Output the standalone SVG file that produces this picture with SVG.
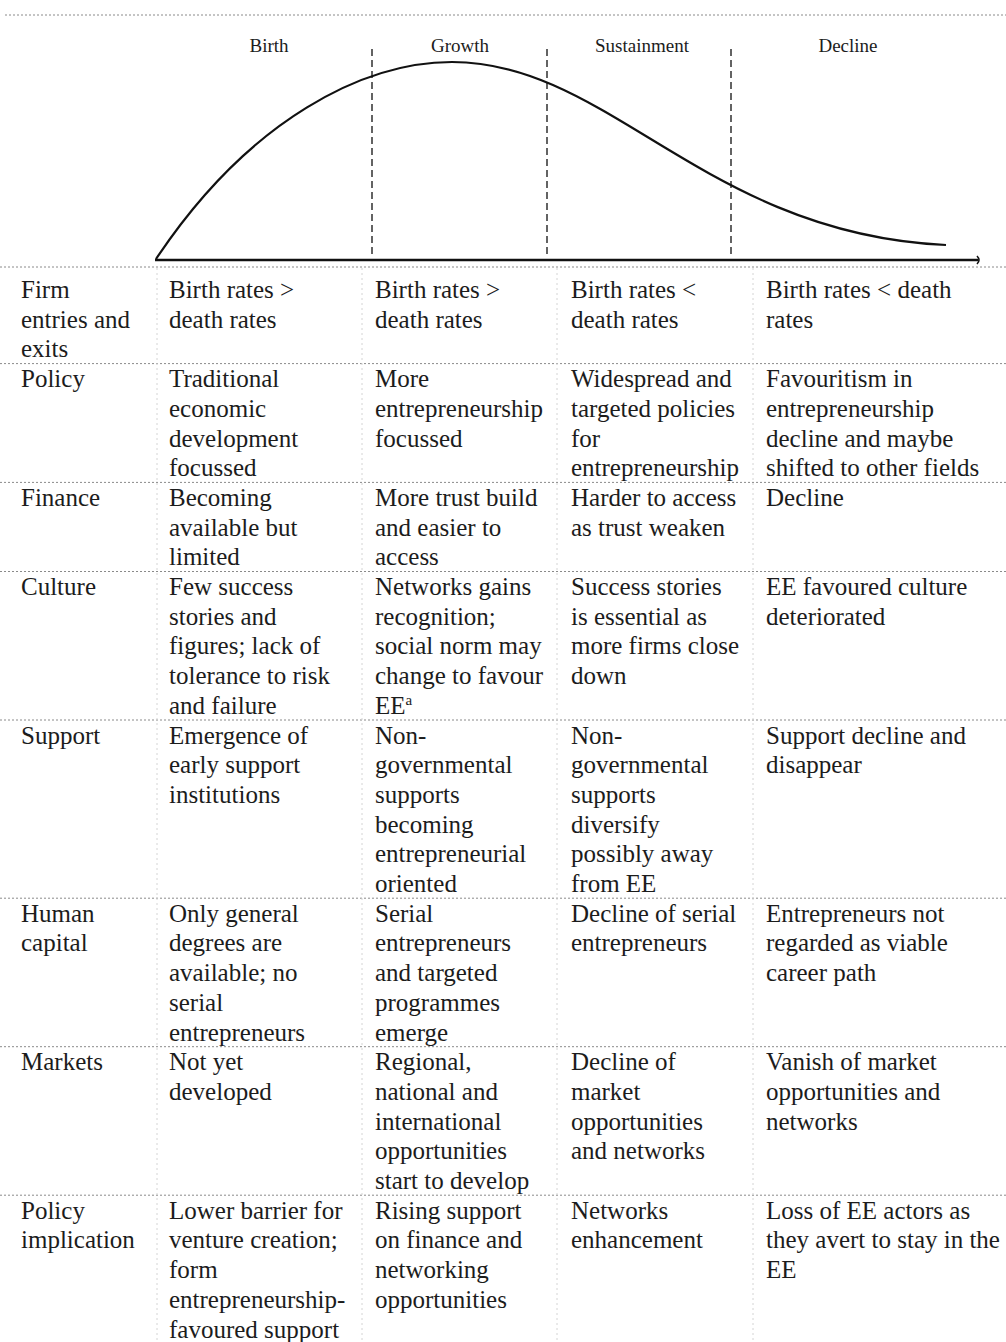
<svg xmlns="http://www.w3.org/2000/svg" width="1006" height="1342" viewBox="0 0 1006 1342">
<style>
text{font-family:"Liberation Serif","Times New Roman",serif;fill:#1c1c1c}
.cell{font-size:25px}
.phase{font-size:19px;text-anchor:middle}
.hsep{stroke:#8a8a8a;stroke-width:1;stroke-dasharray:2 2;fill:none}
.vsep{stroke:#d4d4d4;stroke-width:1;stroke-dasharray:2 3;fill:none}
.stage{stroke:#222;stroke-width:1.4;stroke-dasharray:7 4;fill:none}
</style>
<defs>
<marker id="arr" viewBox="0 0 10 10" refX="3" refY="5" markerWidth="10" markerHeight="10" markerUnits="userSpaceOnUse" orient="auto">
<path d="M2,1 Q6,5 2,9" fill="none" stroke="#111" stroke-width="1.6"/>
</marker>
</defs>
<rect width="1006" height="1342" fill="#fff"/>
<g id="chart">
<line x1="5" y1="15" x2="1006" y2="15" class="hsep" stroke="#aaa"/>
<text class="phase" x="269" y="52">Birth</text>
<text class="phase" x="460" y="52">Growth</text>
<text class="phase" x="642" y="52">Sustainment</text>
<text class="phase" x="848" y="52">Decline</text>
<line class="stage" x1="372" y1="49" x2="372" y2="258"/>
<line class="stage" x1="547" y1="49" x2="547" y2="258"/>
<line class="stage" x1="731" y1="49" x2="731" y2="258"/>
<path d="M156,259 C250,118 365,62 452,62 C610,62 705,234 946,245" fill="none" stroke="#111" stroke-width="2.2"/>
<line x1="155" y1="260" x2="978" y2="260" stroke="#111" stroke-width="2.6" marker-end="url(#arr)"/>
</g>
<g id="grid">
<line class="hsep" x1="0" y1="267" x2="1006" y2="267" stroke="#555"/>
<line class="hsep" x1="0" y1="363.6" x2="1006" y2="363.6"/>
<line class="hsep" x1="0" y1="482.4" x2="1006" y2="482.4"/>
<line class="hsep" x1="0" y1="571.5" x2="1006" y2="571.5"/>
<line class="hsep" x1="0" y1="720" x2="1006" y2="720"/>
<line class="hsep" x1="0" y1="898.2" x2="1006" y2="898.2"/>
<line class="hsep" x1="0" y1="1046.7" x2="1006" y2="1046.7"/>
<line class="hsep" x1="0" y1="1195.2" x2="1006" y2="1195.2"/>
<line class="vsep" x1="157" y1="268" x2="157" y2="1342"/>
<line class="vsep" x1="362" y1="268" x2="362" y2="1342"/>
<line class="vsep" x1="557" y1="268" x2="557" y2="1342"/>
<line class="vsep" x1="753" y1="268" x2="753" y2="1342"/>
</g>
<g id="row-firm" class="cell">
<text x="21" y="298"><tspan x="21">Firm</tspan><tspan x="21" dy="29.7">entries and</tspan><tspan x="21" dy="29.7">exits</tspan></text>
<text x="169" y="298"><tspan x="169">Birth rates &gt;</tspan><tspan x="169" dy="29.7">death rates</tspan></text>
<text x="375" y="298"><tspan x="375">Birth rates &gt;</tspan><tspan x="375" dy="29.7">death rates</tspan></text>
<text x="571" y="298"><tspan x="571">Birth rates &lt;</tspan><tspan x="571" dy="29.7">death rates</tspan></text>
<text x="766" y="298"><tspan x="766">Birth rates &lt; death</tspan><tspan x="766" dy="29.7">rates</tspan></text>
</g>
<g id="row-policy" class="cell">
<text x="21" y="387.1">Policy</text>
<text x="169" y="387.1"><tspan x="169">Traditional</tspan><tspan x="169" dy="29.7">economic</tspan><tspan x="169" dy="29.7">development</tspan><tspan x="169" dy="29.7">focussed</tspan></text>
<text x="375" y="387.1"><tspan x="375">More</tspan><tspan x="375" dy="29.7">entrepreneurship</tspan><tspan x="375" dy="29.7">focussed</tspan></text>
<text x="571" y="387.1"><tspan x="571">Widespread and</tspan><tspan x="571" dy="29.7">targeted policies</tspan><tspan x="571" dy="29.7">for</tspan><tspan x="571" dy="29.7">entrepreneurship</tspan></text>
<text x="766" y="387.1"><tspan x="766">Favouritism in</tspan><tspan x="766" dy="29.7">entrepreneurship</tspan><tspan x="766" dy="29.7">decline and maybe</tspan><tspan x="766" dy="29.7">shifted to other fields</tspan></text>
</g>
<g id="row-finance" class="cell">
<text x="21" y="505.9">Finance</text>
<text x="169" y="505.9"><tspan x="169">Becoming</tspan><tspan x="169" dy="29.7">available but</tspan><tspan x="169" dy="29.7">limited</tspan></text>
<text x="375" y="505.9"><tspan x="375">More trust build</tspan><tspan x="375" dy="29.7">and easier to</tspan><tspan x="375" dy="29.7">access</tspan></text>
<text x="571" y="505.9"><tspan x="571">Harder to access</tspan><tspan x="571" dy="29.7">as trust weaken</tspan></text>
<text x="766" y="505.9">Decline</text>
</g>
<g id="row-culture" class="cell">
<text x="21" y="595">Culture</text>
<text x="169" y="595"><tspan x="169">Few success</tspan><tspan x="169" dy="29.7">stories and</tspan><tspan x="169" dy="29.7">figures; lack of</tspan><tspan x="169" dy="29.7">tolerance to risk</tspan><tspan x="169" dy="29.7">and failure</tspan></text>
<text x="375" y="595"><tspan x="375">Networks gains</tspan><tspan x="375" dy="29.7">recognition;</tspan><tspan x="375" dy="29.7">social norm may</tspan><tspan x="375" dy="29.7">change to favour</tspan><tspan x="375" dy="29.7">EE</tspan><tspan dy="-9" font-size="15">a</tspan></text>
<text x="571" y="595"><tspan x="571">Success stories</tspan><tspan x="571" dy="29.7">is essential as</tspan><tspan x="571" dy="29.7">more firms close</tspan><tspan x="571" dy="29.7">down</tspan></text>
<text x="766" y="595"><tspan x="766">EE favoured culture</tspan><tspan x="766" dy="29.7">deteriorated</tspan></text>
</g>
<g id="row-support" class="cell">
<text x="21" y="743.5">Support</text>
<text x="169" y="743.5"><tspan x="169">Emergence of</tspan><tspan x="169" dy="29.7">early support</tspan><tspan x="169" dy="29.7">institutions</tspan></text>
<text x="375" y="743.5"><tspan x="375">Non-</tspan><tspan x="375" dy="29.7">governmental</tspan><tspan x="375" dy="29.7">supports</tspan><tspan x="375" dy="29.7">becoming</tspan><tspan x="375" dy="29.7">entrepreneurial</tspan><tspan x="375" dy="29.7">oriented</tspan></text>
<text x="571" y="743.5"><tspan x="571">Non-</tspan><tspan x="571" dy="29.7">governmental</tspan><tspan x="571" dy="29.7">supports</tspan><tspan x="571" dy="29.7">diversify</tspan><tspan x="571" dy="29.7">possibly away</tspan><tspan x="571" dy="29.7">from EE</tspan></text>
<text x="766" y="743.5"><tspan x="766">Support decline and</tspan><tspan x="766" dy="29.7">disappear</tspan></text>
</g>
<g id="row-human" class="cell">
<text x="21" y="921.7"><tspan x="21">Human</tspan><tspan x="21" dy="29.7">capital</tspan></text>
<text x="169" y="921.7"><tspan x="169">Only general</tspan><tspan x="169" dy="29.7">degrees are</tspan><tspan x="169" dy="29.7">available; no</tspan><tspan x="169" dy="29.7">serial</tspan><tspan x="169" dy="29.7">entrepreneurs</tspan></text>
<text x="375" y="921.7"><tspan x="375">Serial</tspan><tspan x="375" dy="29.7">entrepreneurs</tspan><tspan x="375" dy="29.7">and targeted</tspan><tspan x="375" dy="29.7">programmes</tspan><tspan x="375" dy="29.7">emerge</tspan></text>
<text x="571" y="921.7"><tspan x="571">Decline of serial</tspan><tspan x="571" dy="29.7">entrepreneurs</tspan></text>
<text x="766" y="921.7"><tspan x="766">Entrepreneurs not</tspan><tspan x="766" dy="29.7">regarded as viable</tspan><tspan x="766" dy="29.7">career path</tspan></text>
</g>
<g id="row-markets" class="cell">
<text x="21" y="1070.2">Markets</text>
<text x="169" y="1070.2"><tspan x="169">Not yet</tspan><tspan x="169" dy="29.7">developed</tspan></text>
<text x="375" y="1070.2"><tspan x="375">Regional,</tspan><tspan x="375" dy="29.7">national and</tspan><tspan x="375" dy="29.7">international</tspan><tspan x="375" dy="29.7">opportunities</tspan><tspan x="375" dy="29.7">start to develop</tspan></text>
<text x="571" y="1070.2"><tspan x="571">Decline of</tspan><tspan x="571" dy="29.7">market</tspan><tspan x="571" dy="29.7">opportunities</tspan><tspan x="571" dy="29.7">and networks</tspan></text>
<text x="766" y="1070.2"><tspan x="766">Vanish of market</tspan><tspan x="766" dy="29.7">opportunities and</tspan><tspan x="766" dy="29.7">networks</tspan></text>
</g>
<g id="row-implication" class="cell">
<text x="21" y="1218.7"><tspan x="21">Policy</tspan><tspan x="21" dy="29.7">implication</tspan></text>
<text x="169" y="1218.7"><tspan x="169">Lower barrier for</tspan><tspan x="169" dy="29.7">venture creation;</tspan><tspan x="169" dy="29.7">form</tspan><tspan x="169" dy="29.7">entrepreneurship-</tspan><tspan x="169" dy="29.7">favoured support</tspan></text>
<text x="375" y="1218.7"><tspan x="375">Rising support</tspan><tspan x="375" dy="29.7">on finance and</tspan><tspan x="375" dy="29.7">networking</tspan><tspan x="375" dy="29.7">opportunities</tspan></text>
<text x="571" y="1218.7"><tspan x="571">Networks</tspan><tspan x="571" dy="29.7">enhancement</tspan></text>
<text x="766" y="1218.7"><tspan x="766">Loss of EE actors as</tspan><tspan x="766" dy="29.7">they avert to stay in the</tspan><tspan x="766" dy="29.7">EE</tspan></text>
</g>
</svg>
